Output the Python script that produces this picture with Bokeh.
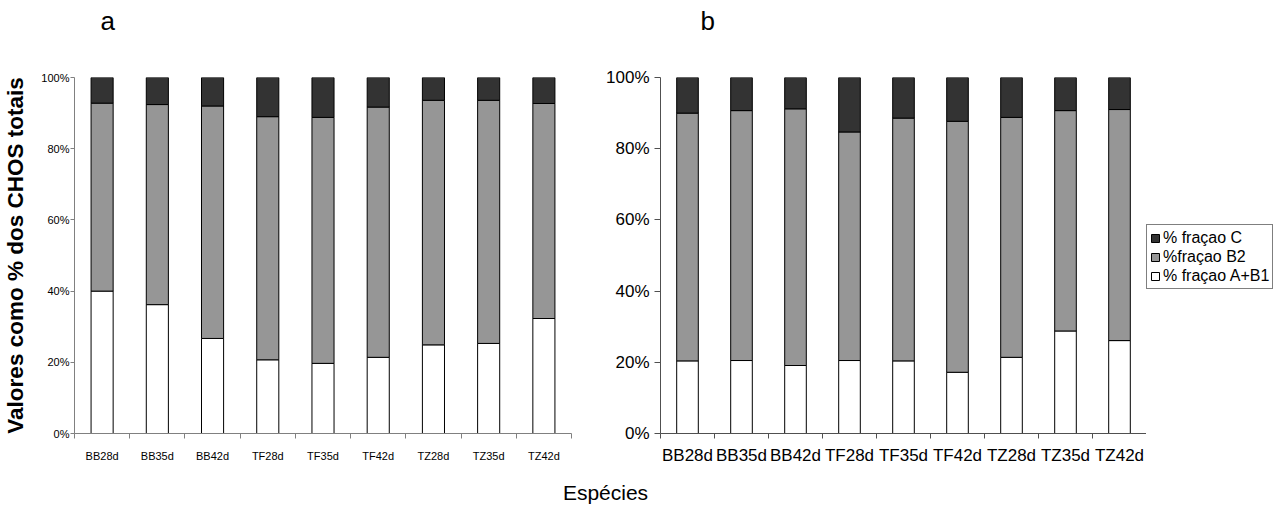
from bokeh.plotting import figure
from bokeh.models import (FactorRange, Range1d, LinearAxis, FixedTicker,
                          PrintfTickFormatter, Legend, LegendItem, Label)
from bokeh.layouts import row, column
from bokeh.embed import file_html
from bokeh.resources import INLINE

# ---------------- data ----------------
species = ["BB28d", "BB35d", "BB42d", "TF28d", "TF35d", "TF42d", "TZ28d", "TZ35d", "TZ42d"]
series_names = ["% fraçao A+B1", "%fraçao B2", "% fraçao C"]
y_ticks = [0, 20, 40, 60, 80, 100]

# panel a (percent of total CHOS)
a_ab1 = [40.0, 36.2, 26.7, 20.7, 19.7, 21.4, 24.9, 25.3, 32.3]
a_b2 = [52.8, 56.2, 65.3, 68.3, 69.1, 70.3, 68.7, 68.3, 60.4]
a_c = [7.2, 7.6, 8.0, 11.0, 11.2, 8.3, 6.4, 6.4, 7.3]

# panel b
b_ab1 = [20.4, 20.5, 19.1, 20.5, 20.4, 17.2, 21.4, 28.8, 26.1]
b_b2 = [69.6, 70.2, 72.1, 64.2, 68.2, 70.5, 67.4, 61.9, 64.9]
b_c = [10.0, 9.3, 8.8, 15.3, 11.4, 12.3, 11.2, 9.3, 9.0]

colors = ["#ffffff", "#969696", "#333333"]
TOP_H = 40
ROW_H = 435
BOT_H = 506 - TOP_H - ROW_H


def bare(width, height, x_range, y_range):
    f = figure(width=width, height=height, x_range=x_range, y_range=y_range,
               output_backend="svg", toolbar_location=None, min_border=0,
               x_axis_location=None, y_axis_location=None)
    f.outline_line_color = None
    f.xgrid.grid_line_color = None
    f.ygrid.grid_line_color = None
    return f


def make_panel(ab1, b2, c, width, mleft, mright, mtop, mbottom, font, tick_size,
               axis_color, xlabel_standoff, ylabel_standoff, ytick_out):
    p = figure(x_range=FactorRange(*species), y_range=Range1d(0, 100),
               width=width, height=ROW_H, output_backend="svg",
               toolbar_location=None, x_axis_location=None,
               min_border_left=mleft, min_border_right=mright,
               min_border_top=mtop, min_border_bottom=mbottom,
               background_fill_color="white", border_fill_color="white")
    p.outline_line_color = None
    p.xgrid.grid_line_color = None
    p.ygrid.grid_line_color = None

    src = dict(species=species, ab1=ab1, b2=b2, c=c)
    rs = p.vbar_stack(["ab1", "b2", "c"], x="species", width=0.4,
                      fill_color=colors, line_color="black", line_width=1,
                      source=src)

    # x axis: labels at category centres, tick marks at category boundaries
    n = len(species)
    xa = LinearAxis(ticker=FixedTicker(ticks=[i + 0.5 for i in range(n)],
                                       minor_ticks=list(range(n + 1))),
                    major_label_overrides={i + 0.5: s for i, s in enumerate(species)})
    xa.major_tick_out = 0
    xa.major_tick_in = 0
    xa.major_tick_line_color = None
    xa.minor_tick_out = 5
    xa.minor_tick_in = 0
    xa.minor_tick_line_color = axis_color
    xa.axis_line_color = axis_color
    xa.major_label_text_font = font
    xa.major_label_text_font_size = tick_size
    xa.major_label_text_color = "black"
    xa.major_label_standoff = xlabel_standoff
    p.add_layout(xa, "below")

    ya = p.yaxis[0]
    ya.ticker = FixedTicker(ticks=y_ticks)
    ya.formatter = PrintfTickFormatter(format="%d%%")
    ya.major_tick_out = ytick_out
    ya.major_tick_in = 0
    ya.minor_tick_line_color = None
    ya.axis_line_color = axis_color
    ya.major_tick_line_color = axis_color
    ya.major_label_text_font = font
    ya.major_label_text_font_size = tick_size
    ya.major_label_text_color = "black"
    ya.major_label_standoff = ylabel_standoff
    return p, rs, src


p1, rs1, src1 = make_panel(a_ab1, a_b2, a_c, width=590, mleft=73, mright=19,
                           mtop=77 - TOP_H, mbottom=TOP_H + ROW_H - 436,
                           font="Liberation Sans", tick_size="11px",
                           axis_color="#808080", xlabel_standoff=11,
                           ylabel_standoff=1, ytick_out=4)
p1.yaxis[0].axis_label = "Valores como % dos CHOS totais"
p1.yaxis[0].axis_label_text_font = "Liberation Sans"
p1.yaxis[0].axis_label_text_font_style = "bold"
p1.yaxis[0].axis_label_text_font_size = "22.5px"
p1.yaxis[0].axis_label_text_color = "black"
p1.yaxis[0].axis_label_standoff = 10

p2, rs2, src2 = make_panel(b_ab1, b_b2, b_c, width=556, mleft=70, mright=0,
                           mtop=71 - TOP_H, mbottom=TOP_H + ROW_H - 433,
                           font="Liberation Sans", tick_size="17px",
                           axis_color="#505050", xlabel_standoff=7,
                           ylabel_standoff=5, ytick_out=6)

# legend panel to the right of chart b (legend keys mirror chart b's series)
p4 = bare(129, ROW_H, FactorRange(*species), Range1d(0, 100))
keys = p4.vbar_stack(["ab1", "b2", "c"], x="species", width=0.4,
                     fill_color=colors, line_color="black", line_width=1,
                     source=dict(src2))
for k in keys:
    k.visible = False

legend = Legend(items=[LegendItem(label=series_names[2], renderers=[keys[2]]),
                       LegendItem(label=series_names[1], renderers=[keys[1]]),
                       LegendItem(label=series_names[0], renderers=[keys[0]])],
                location=(0, 144))
legend.label_text_font = "Liberation Sans"
legend.label_text_font_size = "16px"
legend.label_text_color = "black"
legend.glyph_width = 10
legend.glyph_height = 10
legend.label_height = 19
legend.label_standoff = 3
legend.spacing = 0
legend.padding = 3
legend.margin = 0
legend.border_line_color = "black"
legend.border_line_width = 1
legend.background_fill_color = "white"
legend.background_fill_alpha = 1
legend.inactive_fill_alpha = 0
p4.add_layout(legend, "center")

# panel letters
p0 = bare(1275, TOP_H, Range1d(0, 1275), Range1d(0, TOP_H))
for txt, xpos in (("a", 100), ("b", 700)):
    p0.add_layout(Label(x=xpos, y=TOP_H - 20, text=txt, text_align="left",
                        text_baseline="middle", text_font="Liberation Sans",
                        text_font_size="26px", text_color="black"))

# shared x-axis title
p3 = bare(1275, BOT_H, Range1d(0, 1275), Range1d(0, BOT_H))
p3.add_layout(Label(x=605, y=BOT_H - 17, text="Espécies", text_align="center",
                    text_baseline="middle", text_font="Liberation Sans",
                    text_font_size="21px", text_color="black"))

layout = column(p0, row(p1, p2, p4), p3)
open("out.html", "w").write(file_html(layout, INLINE))
